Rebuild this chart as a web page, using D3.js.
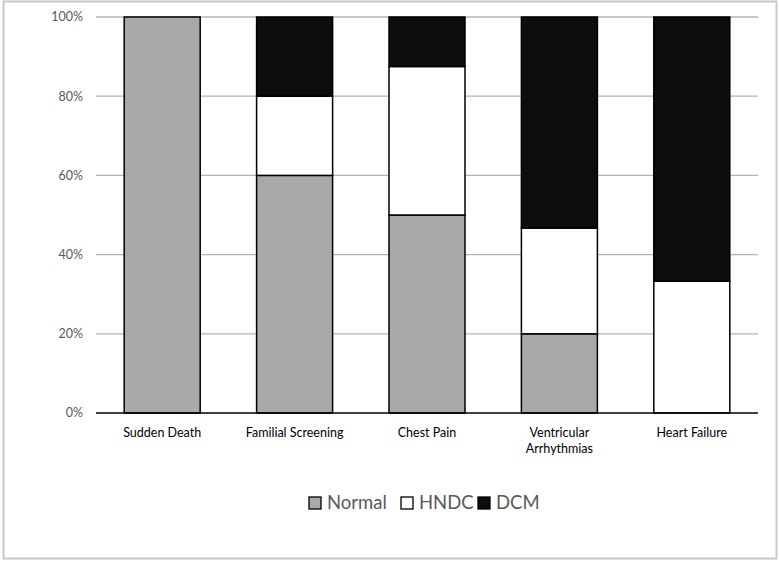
<!DOCTYPE html>
<html>
<head>
<meta charset="utf-8">
<script src="https://cdn.jsdelivr.net/npm/d3@7"></script>
<style>
  body { margin: 0; background: #fff; }
  text { font-family: Lato, "Open Sans", sans-serif; }
</style>
</head>
<body>
<div id="chart"></div>
<script>
var width = 779
var height = 562

// data (percent of each category)
var categories = ["Sudden Death", "Familial Screening", "Chest Pain", "Ventricular Arrhythmias", "Heart Failure"]
var seriesNames = ["Normal", "HNDC", "DCM"]
var normal = [100, 60, 50, 20, 0]
var hndc = [0, 20, 37.5, 26.7, 33.3]
var dcm = [0, 20, 12.5, 53.3, 66.7]
var yTicks = [0, 20, 40, 60, 80, 100]
var colors = ["#a9a9a9", "#ffffff", "#0d0d0d"]

var rows = categories.map(function(c, i) {
  return { cat: c, Normal: normal[i], HNDC: hndc[i], DCM: dcm[i] }
})

var svg = d3.select("#chart")
  .append("svg")
    .attr("width", width)
    .attr("height", height)

// outer border
svg.append("rect")
  .attr("x", 3.5).attr("y", 1.5)
  .attr("width", 773).attr("height", 557)
  .attr("fill", "#fff")
  .attr("stroke", "#c8c8c8")
  .attr("stroke-width", 2)

var plotLeft = 96, plotRight = 758, plotTop = 17, plotBottom = 413

var x = d3.scaleBand()
  .domain(categories)
  .range([plotLeft, plotRight])
  .paddingInner(0.426)
  .paddingOuter(0.213)

var y = d3.scaleLinear()
  .domain([0, 100])
  .range([plotBottom, plotTop])

// gridlines
svg.append("g")
  .selectAll("line")
  .data(yTicks.slice(1))
  .enter()
  .append("line")
    .attr("x1", plotLeft).attr("x2", plotRight)
    .attr("y1", function(d) { return y(d) })
    .attr("y2", function(d) { return y(d) })
    .attr("stroke", "#b4b4b4")
    .attr("stroke-width", 1.3)

// y labels
svg.append("g")
  .selectAll("text")
  .data(yTicks)
  .enter()
  .append("text")
    .attr("x", 83)
    .attr("y", function(d) { return y(d) })
    .attr("dy", "0.35em")
    .attr("text-anchor", "end")
    .attr("font-size", 12.5)
    .attr("fill", "#595959")
    .text(function(d) { return d + "%" })

var stack = d3.stack().keys(seriesNames)
var layers = stack(rows)

svg.append("g")
  .selectAll("g")
  .data(layers)
  .enter()
  .append("g")
    .attr("fill", function(d, i) { return colors[i] })
  .selectAll("rect")
  .data(function(d) { return d.filter(function(p) { return p[1] - p[0] > 0 }) })
  .enter()
  .append("rect")
    .attr("x", function(d) { return x(d.data.cat) })
    .attr("width", x.bandwidth())
    .attr("y", function(d) { return y(d[1]) })
    .attr("height", function(d) { return y(d[0]) - y(d[1]) })
    .attr("stroke", "#000")
    .attr("stroke-width", 1.5)

// baseline
svg.append("line")
  .attr("x1", plotLeft).attr("x2", plotRight)
  .attr("y1", plotBottom).attr("y2", plotBottom)
  .attr("stroke", "#000")
  .attr("stroke-width", 1.5)

// category labels
var catLabels = svg.append("g")
  .selectAll("text")
  .data(categories)
  .enter()
  .append("text")
    .attr("x", function(d) { return x(d) + x.bandwidth() / 2 })
    .attr("y", 437)
    .attr("text-anchor", "middle")
    .attr("font-size", 12.5)
    .attr("fill", "#000")

catLabels.each(function(d) {
  var words = d == "Ventricular Arrhythmias" ? ["Ventricular", "Arrhythmias"] : [d]
  var t = d3.select(this)
  words.forEach(function(w, i) {
    t.append("tspan")
      .attr("x", x(d) + x.bandwidth() / 2)
      .attr("dy", i == 0 ? 0 : 16)
      .text(w)
  })
})

// legend
var legendX = [309, 401, 478]
var legend = svg.append("g")
  .selectAll("g")
  .data(seriesNames)
  .enter()
  .append("g")
    .attr("transform", function(d, i) { return "translate(" + legendX[i] + ",503)" })

legend.append("rect")
  .attr("x", 0).attr("y", -6)
  .attr("width", 12).attr("height", 12)
  .attr("fill", function(d, i) { return colors[i] })
  .attr("stroke", "#000")
  .attr("stroke-width", 1.3)

legend.append("text")
  .attr("x", 18)
  .attr("y", 0)
  .attr("dy", "0.35em")
  .attr("font-size", 18.5)
  .attr("fill", "#595959")
  .text(function(d) { return d })
</script>
</body>
</html>
